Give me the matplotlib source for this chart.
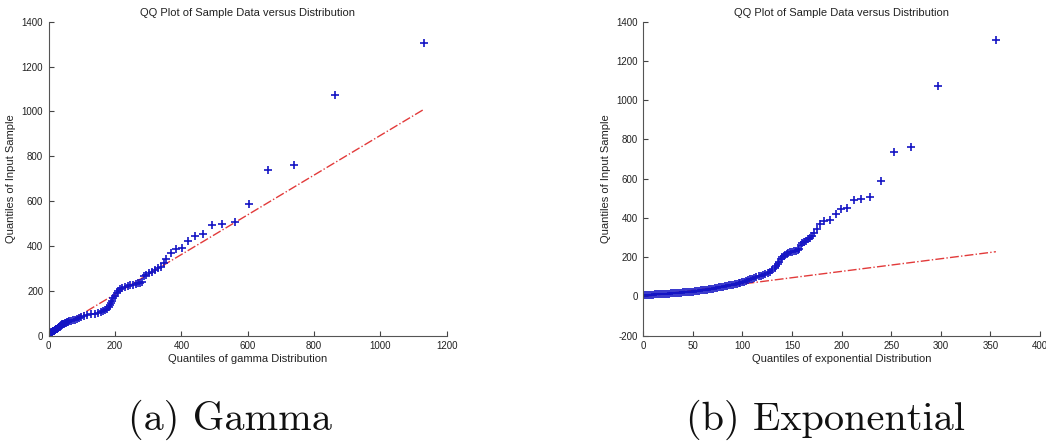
import matplotlib.pyplot as plt

# sorted sample quantiles (same sample in both panels)
sample_q = [5, 6, 7, 7, 8, 9, 10, 11, 11, 12, 13, 14, 15, 15, 16, 17, 18, 19, 19, 20,
            21, 22, 23, 23, 24, 25, 26, 28, 29, 31, 32, 34, 35, 37, 38, 40, 42, 44, 46, 48,
            50, 52, 54, 56, 58, 60, 62, 64, 67, 69,
            72, 76, 80, 83, 87, 91, 95, 98, 102, 105, 110, 115, 120, 127, 135, 145, 155, 167, 178, 190,
            200, 207, 213, 218, 222, 225, 228, 230, 234, 237, 241, 264, 271, 278, 285, 293, 300, 308, 322, 342,
            367, 386, 390, 422, 446, 452, 494, 497, 509, 587, 737, 763, 1074, 1305]

# theoretical quantiles, gamma panel
gamma_q = [0.5, 1.2, 1.9, 2.2, 2.6, 3, 3.8, 4.5, 5, 5.3, 6, 7, 8, 8.5, 9, 10, 11, 12, 12.5, 13,
           14, 15, 16.5, 17, 18, 19, 20, 22, 23, 25, 26, 28, 29, 30.5, 31, 33, 34.5, 36, 38, 39.5,
           41, 43.5, 46, 49, 51.5, 54, 58, 62, 68, 72,
           78, 84, 90, 97, 106, 116, 127, 138, 148, 157, 164, 170, 176, 181, 185, 189, 192, 195, 200, 205,
           210, 215, 222, 230, 238, 246, 254, 262, 268, 274, 280, 286, 292, 303, 312, 321, 330, 339, 346, 353,
           368, 384, 401, 419, 440, 464, 491, 522, 561, 605, 662, 740, 862, 1132]

# theoretical quantiles, exponential panel
expo_q = [0, 2, 4, 6, 8, 10, 12, 14, 16, 18, 20, 22, 24, 26, 28, 30, 32, 34, 36, 38,
          40, 42, 44, 46, 48, 50, 52, 54, 56, 58, 60, 62, 64, 66, 68, 70, 72, 74, 76, 78,
          80, 82, 84, 86, 88, 90, 92, 94, 96, 98,
          100, 102, 104, 106, 108, 110, 112, 114, 116.5, 119, 121, 123, 125.5, 128, 130, 132.5, 134, 135.5, 137, 138.5,
          140, 141.5, 143, 144.5, 146, 148, 150, 152, 154, 155.5, 157, 158.5, 160, 162, 164, 166, 168, 170, 172.5, 175,
          178, 182.5, 188, 194, 199.5, 205, 212.5, 219.5, 228.5, 239.5, 252.5, 270, 297, 355.5]

# reference (fit) lines
gamma_line_x = [0, 1132]
gamma_line_y = [8, 1010]
expo_line_x = [0, 355.5]
expo_line_y = [-1, 228]

gamma_xticks = [0, 200, 400, 600, 800, 1000, 1200]
gamma_yticks = [0, 200, 400, 600, 800, 1000, 1200, 1400]
expo_xticks = [0, 50, 100, 150, 200, 250, 300, 350, 400]
expo_yticks = [-200, 0, 200, 400, 600, 800, 1000, 1200, 1400]

plt.rcParams['font.family'] = ['Liberation Sans', 'DejaVu Sans']
plt.rcParams['axes.unicode_minus'] = False
text_color = '#222222'
marker_color = '#1414c4'
line_color = '#e23a3a'

fig = plt.figure(figsize=(10.46, 4.43), dpi=100)
ax1 = fig.add_axes([0.0466, 0.2422, 0.3805, 0.7088])
ax2 = fig.add_axes([0.615, 0.2422, 0.3793, 0.7088])

panels = [
    (ax1, gamma_q, gamma_line_x, gamma_line_y, gamma_xticks, gamma_yticks, (0, 1200), (0, 1400),
     'Quantiles of gamma Distribution'),
    (ax2, expo_q, expo_line_x, expo_line_y, expo_xticks, expo_yticks, (0, 400), (-200, 1400),
     'Quantiles of exponential Distribution'),
]

for ax, xq, lx, ly, xt, yt, xlim, ylim, xlabel in panels:
    ax.plot(lx, ly, linestyle='-.', color=line_color, linewidth=1.0, zorder=1)
    ax.plot(xq, sample_q, linestyle='none', marker='+', markersize=6,
            markeredgewidth=1.2, color=marker_color, zorder=2)
    ax.set_xlim(*xlim)
    ax.set_ylim(*ylim)
    ax.set_xticks(xt)
    ax.set_yticks(yt)
    ax.tick_params(direction='in', length=3.5, width=0.8, labelsize=7,
                   colors='#444444', labelcolor=text_color, pad=4)
    ax.spines['right'].set_color('none')
    ax.spines['top'].set_color('none')
    ax.spines['left'].set_color('#555555')
    ax.spines['bottom'].set_color('#555555')
    ax.set_title('QQ Plot of Sample Data versus Distribution', fontsize=8, color=text_color, pad=4)
    ax.set_xlabel(xlabel, fontsize=8, color=text_color, labelpad=2)
    ax.set_ylabel('Quantiles of Input Sample', fontsize=8, color=text_color, labelpad=4)

fig.text(0.22, 0.03, '(a) Gamma', fontsize=29, family='cmr10', ha='center', va='baseline', color='#111111')
fig.text(0.789, 0.03, '(b) Exponential', fontsize=29, family='cmr10', ha='center', va='baseline', color='#111111')

plt.savefig('out.png', dpi=100)
